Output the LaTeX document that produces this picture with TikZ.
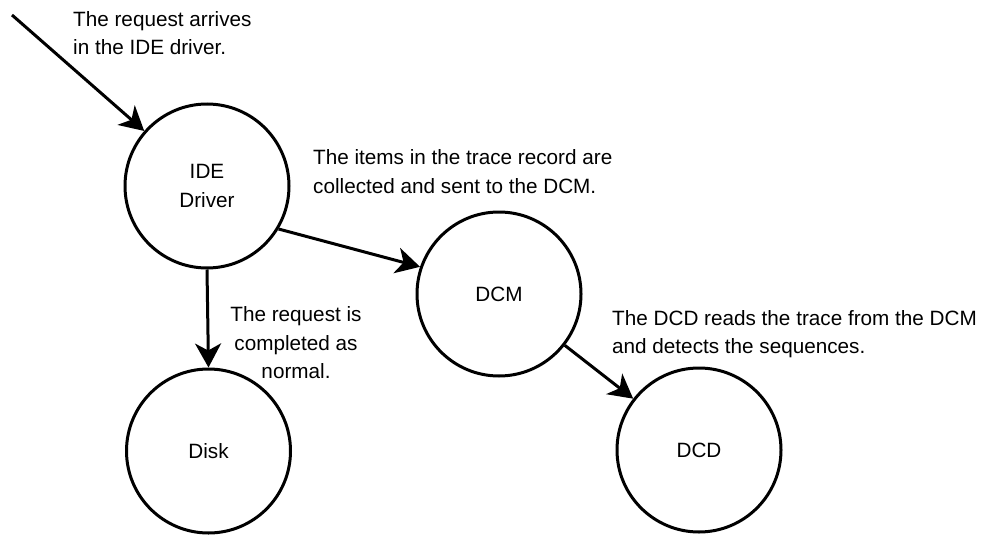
\documentclass[tikz,border=0pt]{standalone}
\usepackage{fontspec}
\setmainfont{Liberation Sans}
\usetikzlibrary{arrows.meta}
\begin{document}
\begin{tikzpicture}[x=1pt,y=-1pt,
  every node/.style={font=\fontsize{20.7}{28.3}\selectfont, inner sep=0pt},
  state/.style={circle, draw, line width=3pt, minimum size=164pt, align=center},
  note/.style={align=left, anchor=base west},
  conn/.style={line width=3pt, -{Stealth[length=24pt,width=26pt,inset=7pt]}}]
\useasboundingbox (0,0) rectangle (982,535);
\node[state] (ide) at (207,186) {IDE\\Driver};
\node[state] (dcm) at (499,294) {DCM};
\node[state] (disk) at (208.5,451) {Disk};
\node[state] (dcd) at (699,450) {DCD};
\coordinate (src) at (12,15);
\draw[conn] (src) -- (ide);
\draw[conn] (ide.-31) -- (dcm.161);
\draw[conn] (ide.south) -- (disk.north);
\draw[conn] (dcm) -- (dcd);
\node[note] (t1) at (73,54.3) {The request arrives\\in the IDE driver.};
\node[note] (t2) at (313,193) {The items in the trace record are\\collected and sent to the DCM.};
\node[align=center, anchor=base] (t3) at (296,378.3) {The request is\\completed as\\normal.};
\node[note] (t4) at (612,353.5) {The DCD reads the trace from the DCM\\and detects the sequences.};
\end{tikzpicture}
\end{document}
